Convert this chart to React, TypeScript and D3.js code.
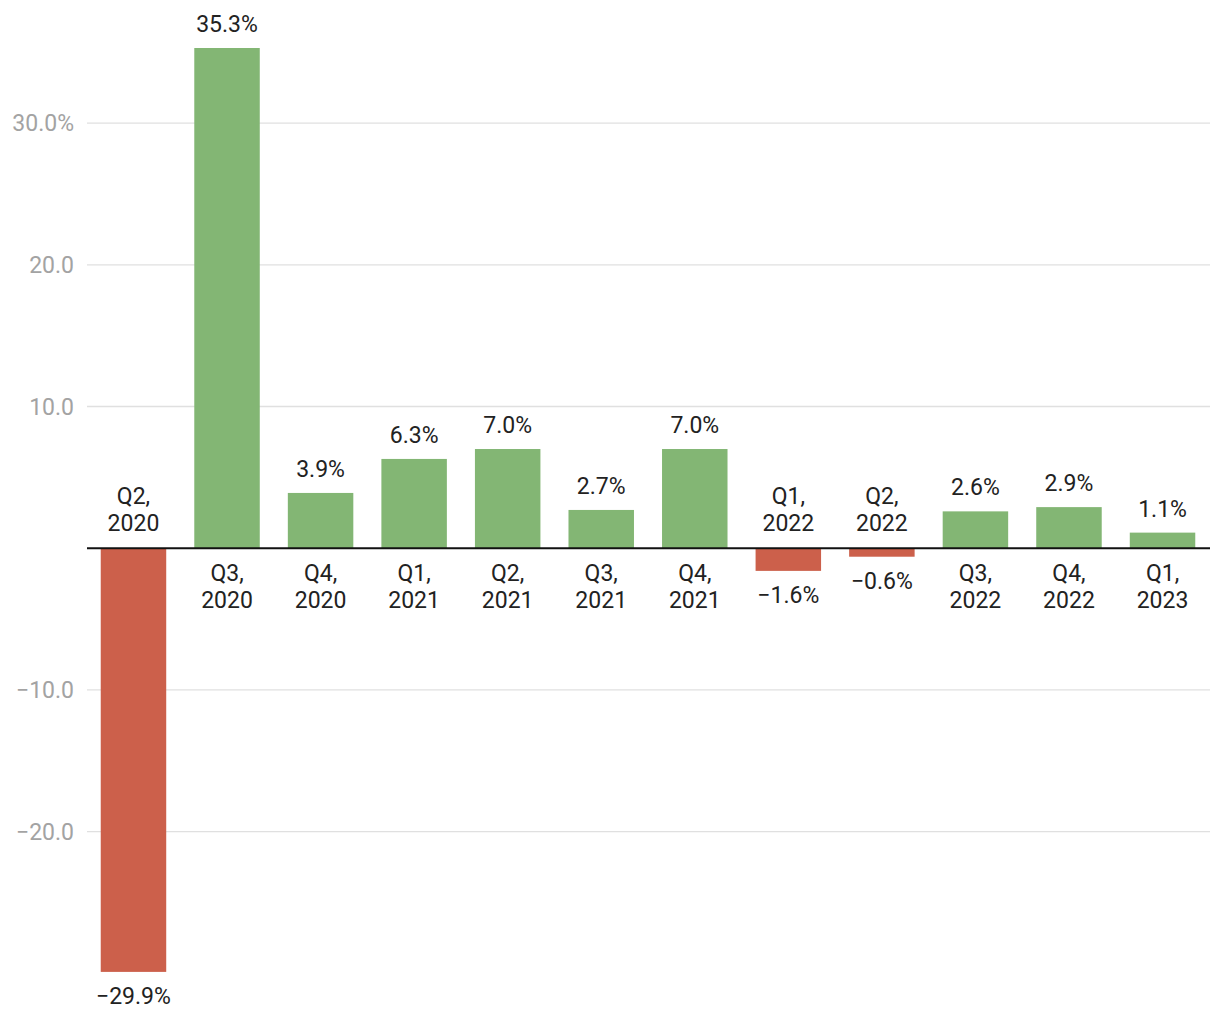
import React from "react";
import * as d3 from "d3";

const quarters = ["Q2", "Q3", "Q4", "Q1", "Q2", "Q3", "Q4", "Q1", "Q2", "Q3", "Q4", "Q1"];
const years = ["2020", "2020", "2020", "2021", "2021", "2021", "2021", "2022", "2022", "2022", "2022", "2023"];
const values = [-29.9, 35.3, 3.9, 6.3, 7.0, 2.7, 7.0, -1.6, -0.6, 2.6, 2.9, 1.1];
const tickValues = [-20, -10, 10, 20, 30];

const W = 1220;
const H = 1020;
const FONT = "Roboto, 'Noto Sans', sans-serif";
const FS = 23;

function fmtValue(v: number) {
  const s = Math.abs(v).toFixed(1) + "%";
  return v < 0 ? "\u2212" + s : s;
}
function fmtTick(v: number) {
  const s = Math.abs(v).toFixed(1) + (v === 30 ? "%" : "");
  return v < 0 ? "\u2212" + s : s;
}

export default function App() {
  const x = d3
    .scaleBand<number>()
    .domain(values.map((_, i) => i))
    .range([86.7, 1209.3])
    .paddingInner(0.3)
    .paddingOuter(0.15);
  const y = d3.scaleLinear().domain([-29.9, 35.3]).range([971.9, 48]);
  const y0 = y(0);

  return (
    <svg
      width={W}
      height={H}
      style={{ position: "absolute", left: 0, top: 0, background: "#fff" }}
      fontFamily={FONT}
    >
      {tickValues.map((t) => (
        <g key={t}>
          <line x1={87} x2={1210} y1={y(t)} y2={y(t)} stroke="#e0e0e0" strokeWidth={1.3} />
          <text
            x={74}
            y={y(t)}
            dy="0.35em"
            textAnchor="end"
            fontSize={FS}
            fill="#a3a3a3"
          >
            {fmtTick(t)}
          </text>
        </g>
      ))}
      {values.map((v, i) => {
        const bx = x(i)!;
        const bw = x.bandwidth();
        const cx = bx + bw / 2;
        const top = y(Math.max(0, v));
        const bottom = y(Math.min(0, v));
        const pos = v >= 0;
        return (
          <g key={i}>
            <rect
              x={bx}
              y={top}
              width={bw}
              height={bottom - top}
              fill={pos ? "#83b674" : "#cc604b"}
            />
            <text
              x={cx}
              y={pos ? top - 16 : bottom + 32}
              textAnchor="middle"
              fontSize={FS}
              fill="#222"
            >
              {fmtValue(v)}
            </text>
            <text x={cx} y={pos ? y0 + 33 : y0 - 44} textAnchor="middle" fontSize={FS} fill="#222">
              {quarters[i] + ","}
            </text>
            <text x={cx} y={pos ? y0 + 60 : y0 - 17} textAnchor="middle" fontSize={FS} fill="#222">
              {years[i]}
            </text>
          </g>
        );
      })}
      <line x1={87} x2={1210} y1={y0} y2={y0} stroke="#111" strokeWidth={2} />
    </svg>
  );
}
